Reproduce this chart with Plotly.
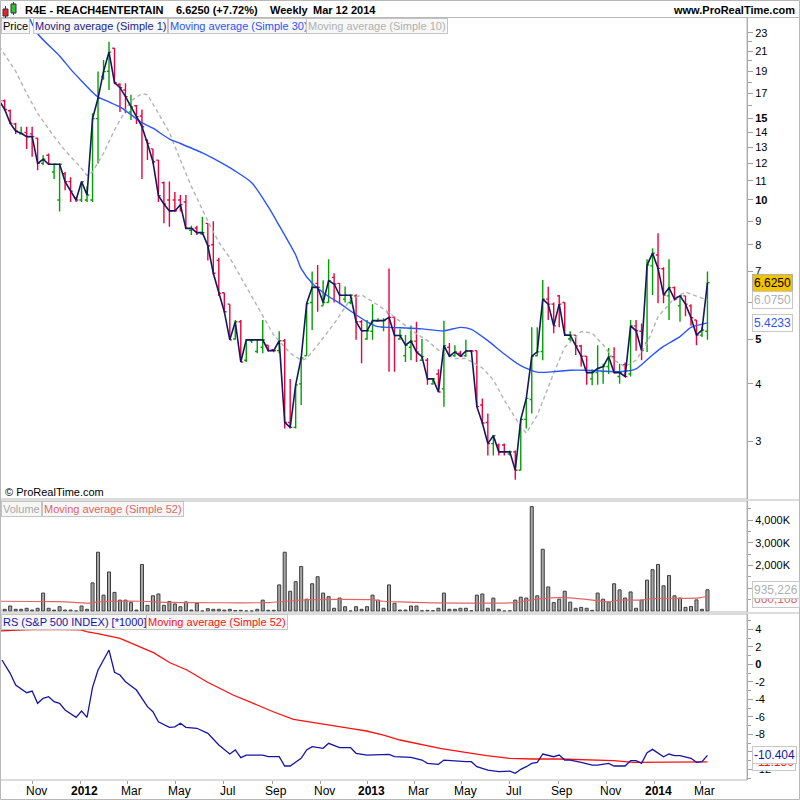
import math
import plotly.graph_objects as go
import pandas as pd

# ---------------- DATA ----------------
dates = pd.date_range('2011-09-19', periods=130, freq='7D')
week0 = pd.Timestamp('2011-09-26')

opens = [17.0, 16.4, 15.6, 14.6, 13.9, 14.0, 13.9, 13.6, 12.0, 12.5, 11.5,
         10.0, 11.4, 10.96, 10.1, 10.0, 10.0, 10.0, 15.0, 18.5, 19.0,
         21.3, 17.8, 17.3, 15.5, 16.0, 15.2, 13.5, 12.9, 12.2, 10.9,
         10.0, 10.0, 10.0, 9.9, 8.6, 8.7, 8.45, 8.9, 8.0, 7.4,
         6.3, 5.95, 5.0, 5.45, 4.5, 4.96, 4.7, 4.8, 4.85, 4.74,
         4.72, 4.96, 3.3, 3.22, 4.0, 4.6, 6.0, 6.6, 5.9, 6.0,
         6.8, 6.6, 6.1, 6.0, 6.2, 5.45, 5.0, 5.2, 5.47, 5.3,
         5.7, 5.57, 5.0, 4.6, 4.8, 4.95, 4.5, 4.5, 4.0, 4.2,
         3.9, 4.8, 4.6, 4.66, 4.6, 4.72, 4.72, 3.6, 3.3, 2.97,
         2.95, 2.95, 2.82, 2.85, 2.6, 3.35, 3.7, 4.6, 4.7, 6.1,
         5.95, 6.2, 6.0, 5.0, 5.1, 4.83, 4.59, 4.1, 4.23, 4.25,
         4.36, 4.58, 4.15, 4.4, 4.2, 5.34, 5.2, 4.9, 7.2, 7.6,
         7.1, 6.2, 6.46, 5.9, 6.2, 5.9, 5.5, 5.1, 5.2]
highs = [17.2, 16.5, 15.7, 14.7, 14.4, 14.4, 14.4, 13.6, 12.5, 12.6, 12.0,
         12.0, 11.5, 11.2, 10.1, 10.96, 10.7, 15.4, 18.96, 20.1, 22.0,
         21.3, 17.9, 17.9, 16.9, 16.06, 15.7, 13.5, 12.9, 12.2, 10.96,
         10.96, 10.4, 10.25, 10.25, 8.8, 8.8, 9.2, 8.9, 9.0, 7.5,
         6.3, 5.95, 5.5, 5.5, 5.0, 5.0, 5.0, 5.5, 4.85, 4.75,
         5.2, 5.0, 4.1, 3.98, 4.58, 6.0, 7.0, 7.23, 6.7, 7.44,
         6.94, 6.6, 6.5, 6.25, 6.25, 5.5, 5.5, 5.95, 5.55, 5.55,
         7.11, 5.6, 5.25, 5.1, 5.35, 5.45, 5.0, 4.55, 4.12, 4.3,
         5.48, 4.9, 4.85, 4.72, 4.98, 4.73, 4.72, 3.72, 3.45, 3.1,
         2.97, 2.97, 2.87, 2.87, 3.35, 3.72, 5.3, 5.3, 6.71, 6.49,
         6.0, 6.23, 6.0, 5.2, 5.1, 4.86, 4.59, 4.3, 4.85, 4.42,
         4.78, 4.8, 4.42, 4.45, 5.5, 5.5, 5.4, 7.44, 7.86, 8.47,
         7.15, 7.44, 6.5, 6.2, 6.2, 5.95, 5.5, 5.3, 7.0]
lows = [16.2, 15.6, 14.6, 13.9, 13.9, 12.9, 12.4, 11.6, 11.9, 11.9, 11.1,
        9.44, 10.5, 9.9, 9.9, 9.9, 9.9, 9.9, 12.0, 18.2, 17.3,
        17.8, 15.5, 15.4, 14.9, 14.6, 11.1, 12.2, 12.0, 9.9, 8.9,
        8.75, 9.44, 9.44, 8.68, 8.4, 8.4, 8.4, 7.4, 6.9, 6.2,
        5.7, 4.98, 4.98, 4.46, 4.46, 4.9, 4.66, 4.66, 4.7, 4.68,
        4.66, 3.2, 3.2, 3.2, 3.6, 4.6, 5.23, 5.73, 5.9, 6.0,
        6.0, 5.95, 6.0, 5.95, 4.98, 4.43, 4.98, 4.98, 5.45, 5.2,
        4.25, 4.25, 4.98, 4.46, 4.5, 4.46, 4.5, 3.98, 3.98, 3.84,
        3.57, 4.58, 4.58, 4.58, 4.58, 4.68, 3.57, 3.27, 2.8, 2.8,
        2.8, 2.8, 2.8, 2.48, 2.6, 3.2, 3.45, 4.59, 4.5, 5.5,
        5.15, 5.3, 5.1, 4.95, 4.62, 4.36, 3.98, 3.97, 3.98, 4.0,
        4.2, 4.22, 4.0, 4.15, 4.15, 4.72, 4.5, 4.69, 6.23, 5.98,
        5.98, 5.5, 6.05, 5.45, 5.6, 5.34, 4.85, 5.05, 4.98]
closes = [16.4, 15.7, 14.66, 14.1, 13.94, 13.71, 13.71, 12.0, 12.25, 11.95, 11.95,
          11.95, 10.96, 10.45, 10.0, 10.96, 10.25, 15.0, 16.6, 18.96, 20.9,
          17.95, 17.5, 16.74, 15.9, 15.15, 14.41, 13.26, 12.1, 10.22, 9.8,
          9.47, 9.47, 9.77, 8.68, 8.68, 8.5, 8.5, 7.96, 6.94, 6.28,
          5.73, 4.98, 5.45, 4.46, 4.98, 4.98, 4.98, 4.98, 4.72, 4.72,
          4.96, 3.3, 3.22, 3.98, 4.55, 5.97, 6.47, 6.47, 6.0, 6.69,
          6.58, 6.22, 6.22, 6.22, 5.45, 5.21, 5.21, 5.48, 5.48, 5.48,
          5.57, 5.09, 5.09, 4.85, 4.95, 4.69, 4.58, 4.10, 4.10, 3.84,
          4.84, 4.59, 4.69, 4.59, 4.71, 4.71, 3.57, 3.29, 2.97, 3.09,
          2.85, 2.85, 2.85, 2.60, 3.35, 3.72, 4.59, 4.69, 6.10, 5.95,
          5.34, 5.95, 5.10, 5.10, 4.83, 4.59, 4.23, 4.23, 4.32, 4.36,
          4.58, 4.23, 4.23, 4.15, 5.34, 5.21, 4.72, 7.23, 7.67, 7.11,
          6.23, 6.46, 6.10, 6.20, 5.95, 5.56, 5.10, 5.23, 6.625]

volume_k = [100, 75, 220, 75, 75, 120, 40, 120, 790, 120, 40,
            190, 40, 40, 0, 220, 75, 1240, 2590, 700, 1720,
            820, 480, 480, 370, 40, 2050, 250, 670, 750, 250,
            420, 310, 190, 400, 40, 340, 0, 100, 75, 75,
            40, 75, 20, 30, 0, 0, 75, 480, 30, 30,
            1150, 2590, 870, 1290, 1960, 520, 1200, 1510, 790, 630,
            120, 570, 190, 0, 190, 75, 190, 700, 480, 120,
            1150, 340, 40, 40, 220, 220, 10, 30, 10, 120,
            790, 75, 75, 120, 120, 10, 700, 750, 120, 570,
            75, 0, 10, 480, 610, 570, 4600, 670, 2720, 1060,
            370, 520, 870, 390, 120, 160, 120, 30, 790, 520,
            390, 1200, 930, 570, 840, 120, 480, 1360, 1820, 2050,
            1110, 1560, 670, 570, 160, 200, 490, 75, 935]

# moving averages (week number from 26 Sep 2011, value)
sma30_weeks = [4, 6, 10, 12, 14, 16, 17, 19, 21, 23, 25, 27, 30, 32, 36, 38, 42, 45,
               48, 50, 53, 54, 56, 59, 61, 63, 66, 68, 72, 76, 80, 83, 85, 88, 91,
               94, 97, 100, 103, 106, 112, 115, 118, 120, 123, 125, 128]
sma30_vals = [25.5, 22.9, 20.5, 19.2, 18.1, 17.1, 16.7, 16.3, 15.9, 15.3, 14.7, 14.3,
              13.55, 13.25, 12.65, 12.3, 11.55, 10.9, 9.67, 8.8, 7.6, 7.1, 6.6, 6.18,
              5.98, 5.75, 5.45, 5.32, 5.29, 5.26, 5.21, 5.30, 5.25, 4.96, 4.64, 4.38,
              4.24, 4.25, 4.28, 4.28, 4.25, 4.31, 4.62, 4.82, 5.06, 5.30, 5.42]

sma10_weeks = [-1, 2, 4, 6, 9, 11, 14, 15, 16, 18, 20, 22, 23, 25, 26, 28, 30, 32, 34,
               37, 39, 41, 44, 47, 49, 52, 54, 55, 57, 60, 63, 65, 67, 70, 72, 74,
               77, 79, 82, 84, 87, 89, 91, 94, 95, 97, 100, 102, 105, 107, 109, 111,
               113, 115, 117, 119, 122, 124, 127, 128]
sma10_vals = [21.5, 19.0, 17.0, 15.4, 13.71, 12.8, 11.7, 11.3, 11.5, 12.62, 14.17, 15.7,
              16.4, 17.0, 16.9, 15.4, 14.0, 12.2, 10.7, 9.0, 8.1, 7.5, 6.49, 5.59, 5.1,
              4.66, 4.5, 4.54, 4.85, 5.4, 6.1, 6.23, 6.03, 5.7, 5.45, 5.23, 4.96, 4.73,
              4.54, 4.54, 4.33, 4.08, 3.69, 3.23, 3.13, 3.42, 4.22, 4.8, 5.19, 5.15, 4.86,
              4.50, 4.36, 4.50, 4.90, 5.59, 6.13, 6.32, 6.13, 6.075]

vol_ma_weeks = [-1, 10, 14, 15.5, 17, 25, 30, 48, 51, 55.6, 66.5, 69, 72, 76.5, 93,
                94.8, 99.3, 103, 107.5, 110, 112, 115.7, 118.4, 126.6, 128]
vol_ma_k = [430, 410, 360, 350, 400, 430, 380, 370, 420, 500, 500, 430, 400, 370, 370,
            450, 580, 580, 470, 400, 480, 480, 550, 580, 660]

rs_weeks = [-0.5, 1, 2, 4, 5, 6, 7, 8, 9, 10, 11, 13, 14, 15, 16, 17, 19, 20, 21, 22, 24,
            26, 27, 28, 30, 31, 32, 33, 35, 37, 39, 41, 42, 43, 44, 47, 48, 50, 51, 52,
            54, 55, 56, 58, 59, 61, 63, 64, 66, 70, 71, 72, 74, 76, 77, 79, 80, 84, 85,
            86, 88, 90, 92, 93, 94, 95, 96, 97, 98, 100, 101, 102, 103, 105, 107, 108,
            110, 111, 113, 114, 115, 116, 117, 118, 120, 121, 122, 123, 125, 126, 127, 128]
rs_vals = [0.49, -1.03, -2.37, -3.24, -3.05, -4.46, -3.89, -3.7, -4.27, -4.46, -5.22,
           -6.06, -5.34, -6.06, -2.63, -0.65, 1.63, -0.91, -1.22, -1.99, -2.94, -4.84,
           -5.42, -6.56, -7.2, -7.15, -6.74, -7.2, -7.31, -7.89, -9.22, -10.25, -9.79,
           -10.67, -10.37, -10.37, -10.56, -10.56, -11.62, -11.62, -10.74, -9.79, -9.41,
           -9.6, -9.03, -9.52, -9.52, -10.17, -10.37, -10.3, -10.56, -10.56, -10.63,
           -10.94, -11.32, -11.43, -10.94, -11.13, -11.13, -11.7, -12.08, -12.27, -12.2,
           -12.46, -12.0, -11.7, -11.32, -11.2, -10.25, -10.56, -10.37, -10.94, -10.94,
           -11.2, -11.51, -11.51, -11.32, -11.62, -11.62, -11.01, -11.01, -11.32, -10.1,
           -9.72, -10.56, -10.25, -10.44, -10.44, -10.74, -11.2, -11.13, -10.404]

rs_ma_weeks = [-1, 1.6, 3.4, 8, 13.7, 14.9, 17.4, 21, 24.6, 27.1, 30.1, 33.2, 36.8, 41.6,
               45.3, 48.9, 52.6, 56.8, 62.9, 65.9, 69, 72, 75.6, 79.3, 84.2, 87.8, 92,
               96.3, 101.1, 106, 110.9, 114.5, 128]
rs_ma_vals = [3.8, 3.9, 3.95, 4.0, 3.95, 3.73, 3.46, 2.97, 2.01, 1.33, 0.18, -0.65,
              -1.99, -3.51, -4.46, -5.42, -6.29, -6.74, -7.31, -7.62, -8.08, -8.65,
              -9.14, -9.6, -10.1, -10.44, -10.74, -10.82, -10.82, -10.94, -11.0, -11.2,
              -11.15]

month_ticks = ['2011-11-01', '2012-01-01', '2012-03-01', '2012-05-01', '2012-07-01',
               '2012-09-01', '2012-11-01', '2013-01-01', '2013-03-01', '2013-05-01',
               '2013-07-01', '2013-09-01', '2013-11-01', '2014-01-01', '2014-03-01']
month_labels = ['Nov', '<b>2012</b>', 'Mar', 'May', 'Jul', 'Sep', 'Nov', '<b>2013</b>',
                'Mar', 'May', 'Jul', 'Sep', 'Nov', '<b>2014</b>', 'Mar']

price_ticks = [3, 4, 5, 6, 7, 8, 9, 10, 11, 12, 13, 14, 15, 17, 19, 21, 23]
price_labels = ['3', '4', '<b>5</b>', '6', '7', '8', '9', '<b>10</b>', '11', '12', '13',
                '14', '<b>15</b>', '17', '19', '21', '23']
vol_ticks = [1000, 2000, 3000, 4000]
vol_labels = ['1,000K', '2,000K', '3,000K', '4,000K']
rs_ticks = [-12, -10, -8, -6, -4, -2, 0, 2, 4]
rs_labels = ['-12', '-10', '-8', '-6', '-4', '-2', '<b>0</b>', '2', '4']


def wk(ws):
    return [week0 + pd.Timedelta(days=7 * w) for w in ws]


# ---------------- LAYOUT HELPERS ----------------
W, H = 800, 800
L, R, T, B = 1, 53, 18, 20
PW, PH = W - L - R, H - T - B


def px(x):
    return (x - L) / PW


def py(y):
    return (T + PH - y) / PH


FONT = 'Liberation Sans, Arial, sans-serif'

fig = go.Figure()

# price panel
fig.add_trace(go.Ohlc(x=dates, open=opens, high=highs, low=lows, close=closes,
                      xaxis='x', yaxis='y', tickwidth=0.4,
                      increasing=dict(line=dict(color='#00a000', width=1.4)),
                      decreasing=dict(line=dict(color='#f0003c', width=1.4)),
                      hoverinfo='skip', showlegend=False))
fig.add_trace(go.Scatter(x=wk(sma10_weeks), y=sma10_vals, mode='lines', xaxis='x', yaxis='y',
                         line=dict(color='#b4b4b4', width=1.4, dash='4px,3px'),
                         hoverinfo='skip', showlegend=False))
fig.add_trace(go.Scatter(x=wk(sma30_weeks), y=sma30_vals, mode='lines', xaxis='x', yaxis='y',
                         line=dict(color='#2b55f5', width=1.4, shape='spline', smoothing=0.6),
                         hoverinfo='skip', showlegend=False))
fig.add_trace(go.Scatter(x=dates, y=closes, mode='lines', xaxis='x', yaxis='y',
                         line=dict(color='#17175f', width=1.6),
                         hoverinfo='skip', showlegend=False))

# volume panel
fig.add_trace(go.Bar(x=dates, y=volume_k, xaxis='x', yaxis='y2',
                     width=7 * 86400000 * 0.55,
                     marker=dict(color='#a8a8a8', line=dict(color='#3c3c3c', width=1)),
                     hoverinfo='skip', showlegend=False))
fig.add_trace(go.Scatter(x=wk(vol_ma_weeks), y=vol_ma_k, mode='lines', xaxis='x', yaxis='y2',
                         line=dict(color='#e46464', width=1.2, shape='spline', smoothing=0.6),
                         hoverinfo='skip', showlegend=False))

# RS panel
fig.add_trace(go.Scatter(x=wk(rs_ma_weeks), y=rs_ma_vals, mode='lines', xaxis='x', yaxis='y3',
                         line=dict(color='#ff1010', width=1.3),
                         hoverinfo='skip', showlegend=False))
fig.add_trace(go.Scatter(x=wk(rs_weeks), y=rs_vals, mode='lines', xaxis='x', yaxis='y3',
                         line=dict(color='#1515a5', width=1.3),
                         hoverinfo='skip', showlegend=False))

yax_common = dict(side='right', anchor='x', showline=True, linecolor='#a0a0a0', linewidth=1,
                  ticks='outside', ticklen=5, tickcolor='#a0a0a0', showgrid=False,
                  zeroline=False, fixedrange=True, automargin=False,
                  tickfont=dict(family=FONT, size=11, color='#000'))

fig.update_layout(
    width=W, height=H, margin=dict(l=L, r=R, t=T, b=B, pad=0, autoexpand=False),
    paper_bgcolor='white', plot_bgcolor='white', showlegend=False,
    font=dict(family=FONT, size=11, color='#000'),
    xaxis=dict(domain=[0, 1], anchor='y3', type='date', automargin=False,
               range=['2011-09-21 07:00', '2014-04-29 10:00'],
               tickmode='array', tickvals=month_ticks, showticklabels=False,
               ticks='outside', ticklen=3, tickcolor='#a0a0a0', showgrid=False,
               showline=False, zeroline=False,
               rangeslider=dict(visible=False)),
    yaxis=dict(domain=[py(499), 1], type='log', range=[0.3528, 1.3939],
               tickmode='array', tickvals=price_ticks, ticktext=price_labels,
               minor=dict(tickmode='array', tickvals=[16, 18, 20, 22], ticks='outside',
                          ticklen=4, tickcolor='#a0a0a0'),
               **yax_common),
    yaxis2=dict(domain=[py(612), py(501)], range=[-44, 4846],
                tickmode='array', tickvals=vol_ticks, ticktext=vol_labels,
                minor=dict(tickmode='array', tickvals=[500, 1500, 2500, 3500, 4500],
                           ticks='outside', ticklen=3, tickcolor='#a0a0a0'),
                **yax_common),
    yaxis3=dict(domain=[0, py(614)], range=[-13.22, 5.75],
                tickmode='array', tickvals=rs_ticks, ticktext=rs_labels,
                minor=dict(tickmode='array', tickvals=[-13, -11, -9, -7, -5, -3, -1, 1, 3, 5],
                           ticks='outside', ticklen=3, tickcolor='#a0a0a0'),
                **yax_common),
)

# ---------------- FRAMES ----------------
GRAY = '#b8b8b8'
shapes = []


def rect(x0, y0, x1, y1, color=GRAY, fill=None, width=1):
    d = dict(type='rect', xref='paper', yref='paper', x0=px(x0), x1=px(x1),
             y0=py(y1), y1=py(y0), line=dict(color=color, width=width), layer='above')
    if fill:
        d['fillcolor'] = fill
    shapes.append(d)


def hline(y, x0=0, x1=800, color=GRAY):
    shapes.append(dict(type='line', xref='paper', yref='paper', x0=px(x0), x1=px(x1),
                       y0=py(y), y1=py(y), line=dict(color=color, width=1), layer='above'))


rect(0.5, 0.5, 799.5, 799.5)
hline(17.5)
rect(0.5, 17.5, 747, 499)
rect(0.5, 501, 747, 612)
rect(0.5, 614, 747, 780)
hline(500, 747, 800)
hline(613, 747, 800)

# title icon (small candles)
shapes.append(dict(type='line', xref='paper', yref='paper', x0=px(5.5), x1=px(5.5),
                   y0=py(18), y1=py(6), line=dict(color='#333', width=1)))
rect(3, 9, 8, 16, color='#333', fill='#e8242c')
shapes.append(dict(type='line', xref='paper', yref='paper', x0=px(13.5), x1=px(13.5),
                   y0=py(15), y1=py(2), line=dict(color='#333', width=1)))
rect(11, 4, 16, 13, color='#333', fill='#35c035')

fig.update_layout(shapes=shapes)

# ---------------- TEXT ----------------
ann = []


def text(x, y, s, color='#000', size=11, xanchor='left', yanchor='middle', **kw):
    ann.append(dict(xref='paper', yref='paper', x=px(x), y=py(y), text=s, showarrow=False,
                    xanchor=xanchor, yanchor=yanchor,
                    font=dict(family=FONT, size=size, color=color), **kw))


def box(x, y, s, color, bg='#f7f7f7', border='#c4c4c4', size=11):
    text(x, y, s, color=color, size=size, yanchor='top', bgcolor=bg, bordercolor=border,
         borderwidth=1, borderpad=1)


text(23, 9.5, '<b>R4E - REACH4ENTERTAIN</b>')
text(174, 9.5, '<b>6.6250 (+7.72%)</b>')
text(268, 9.5, '<b>Weekly</b>')
text(311, 9.5, '<b>Mar 12 2014</b>')
text(797, 9.5, '<b>www.ProRealTime.com</b>', xanchor='right')

box(1, 18, 'Price', '#000')
box(33, 18, 'Moving average (Simple 1)', '#1c1c8a')
box(168, 18, 'Moving average (Simple 30)', '#2b55f5')
box(306, 18, 'Moving average (Simple 10)', '#b0b0b0')

box(1, 501, 'Volume', '#a8a8a8')
box(42, 501, 'Moving average (Simple 52)', '#e46464')

box(1, 614, 'RS (S&P 500 INDEX) [*1000]', '#1515a5')
box(146, 614, 'Moving average (Simple 52)', '#ff1010')

text(3, 492, '© ProRealTime.com')

# x-axis labels
for tv, tl in zip(month_ticks, month_labels):
    ann.append(dict(xref='x', yref='paper', x=tv, y=py(791), text=tl, showarrow=False,
                    xanchor='center', yanchor='middle', xshift=4,
                    font=dict(family=FONT, size=12, color='#000')))


# right-hand value labels
def vlabel(yref, yval, s, color, bg, border):
    ann.append(dict(xref='paper', yref=yref, x=px(752), y=yval, text=s, showarrow=False,
                    xanchor='left', yanchor='middle', bgcolor=bg, bordercolor=border,
                    borderwidth=1, borderpad=1,
                    font=dict(family=FONT, size=12, color=color)))


vlabel('y', math.log10(closes[-1]), '6.6250', '#000', '#f3c300', '#b0b0b0')
vlabel('y', math.log10(sma10_vals[-1]), '6.0750', '#b0b0b0', '#ffffff', '#c8c8c8')
vlabel('y', math.log10(sma30_vals[-1]), '5.4233', '#2b55f5', '#ffffff', '#c8c8c8')
vlabel('y2', vol_ma_k[-1] - 120, '660,108', '#e46464', '#ffffff', '#c8c8c8')
vlabel('y2', volume_k[-1], '935,226', '#b0b0b0', '#ffffff', '#c8c8c8')
vlabel('y3', rs_ma_vals[-1], '-11.150', '#ff1010', '#ffffff', '#c8c8c8')
vlabel('y3', rs_vals[-1], '-10.404', '#1515a5', '#ffffff', '#c8c8c8')

fig.update_layout(annotations=ann)

fig.write_html('out.html', config={'displayModeBar': False},
               post_script="document.body.style.margin='0';")
